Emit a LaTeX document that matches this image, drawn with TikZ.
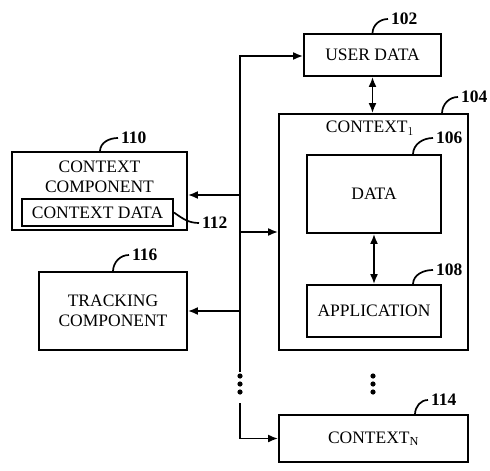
\documentclass[tikz,border=0pt]{standalone}
\usepackage{fontspec}
\setmainfont{Liberation Serif}
\usetikzlibrary{arrows.meta}

\begin{document}
\begin{tikzpicture}[x=1pt, y=-1pt,
    box/.style={draw, line width=1.9pt, inner sep=0pt},
    txt/.style={font=\fontsize{17.5}{20}\selectfont, align=center},
    num/.style={font=\fontsize{17.5}{20}\selectfont\bfseries, anchor=west, inner sep=3pt},
    lead/.style={line width=1.7pt},
    arr/.style={line width=1.7pt, -{Latex[length=10pt,width=8pt]}},
    darr/.style={line width=1.7pt, {Latex[length=10pt,width=8pt]}-{Latex[length=10pt,width=8pt]}}]
      \useasboundingbox (0,0) rectangle (490,471);

      % boxes on the right
      \node[box, minimum width=137pt, minimum height=42pt, txt] (user) at (372.5,55) {USER DATA};
      \node[box, minimum width=189pt, minimum height=236pt] (ctx1) at (373.5,232) {};
      \node[txt] (ctx1lbl) at (370,128) {CONTEXT$_1$};
      \node[box, minimum width=134pt, minimum height=78pt, txt] (data) at (374,194) {DATA};
      \node[box, minimum width=134pt, minimum height=52pt, txt] (app) at (374,311) {APPLICATION};
      \node[box, minimum width=189pt, minimum height=47pt, txt] (ctxN) at (373.5,438.5) {CONTEXT\textsubscript{N}};

      % boxes on the left
      \node[box, minimum width=175pt, minimum height=78pt] (ctxcomp) at (99.5,191) {};
      \node[txt] (ctxcomplbl) at (99.5,177) {CONTEXT\\COMPONENT};
      \node[box, minimum width=151pt, minimum height=27pt, txt] (ctxdata) at (97.5,212.5) {CONTEXT DATA};
      \node[box, minimum width=148pt, minimum height=78pt, txt] (track) at (113,311) {TRACKING\\COMPONENT};

      % reference numbers
      \node[num] (n102) at (388,19) {102};
      \node[num] (n104) at (458,97) {104};
      \node[num] (n106) at (433,138) {106};
      \node[num] (n108) at (433,270) {108};
      \node[num] (n110) at (118,138) {110};
      \node[num] (n112) at (199,223) {112};
      \node[num] (n114) at (428,400) {114};
      \node[num] (n116) at (129,255) {116};

      \draw[lead] (user.north) to[out=88,in=180] (n102.west);
      \draw[lead] (ctx1.north -| 442,0) to[out=88,in=180] (n104.west);
      \draw[lead] (data.north -| 413,0) to[out=88,in=180] (n106.west);
      \draw[lead] (app.north -| 413,0) to[out=88,in=180] (n108.west);
      \draw[lead] (ctxcomp.north -| 100,0) to[out=88,in=180] (n110.west);
      \draw[lead] (ctxdata.east) to[out=-35,in=180] (n112.west);
      \draw[lead] (ctxN.north -| 415,0) to[out=88,in=180] (n114.west);
      \draw[lead] (track.north -| 113,0) to[out=88,in=180] (n116.west);

      % bus
      \draw[line width=1.7pt] (240,56) coordinate (bustop) -- (240,372) coordinate (busend);
      \draw[arr] ([xshift=-0.85pt]bustop) -- (user.west |- bustop);
      \draw[arr] (240,195) -- (ctxcomp.east |- 0,195);
      \draw[arr] (ctx1.west -| bustop) -- (ctx1.west);
      \draw[arr] (track.east -| bustop) -- (track.east);
      \draw[arr] (240,403) coordinate (busgo) |- (ctxN.west);

      \draw[darr] (user.south) -- (ctx1.north -| user.south);
      \draw[darr] (data.south) -- (app.north);

      % dots
      \foreach \y in {376,384,392} {
        \fill (240,\y) circle (2.6pt);
        \fill (373,\y) circle (2.6pt);
      }
\end{tikzpicture}
\end{document}
